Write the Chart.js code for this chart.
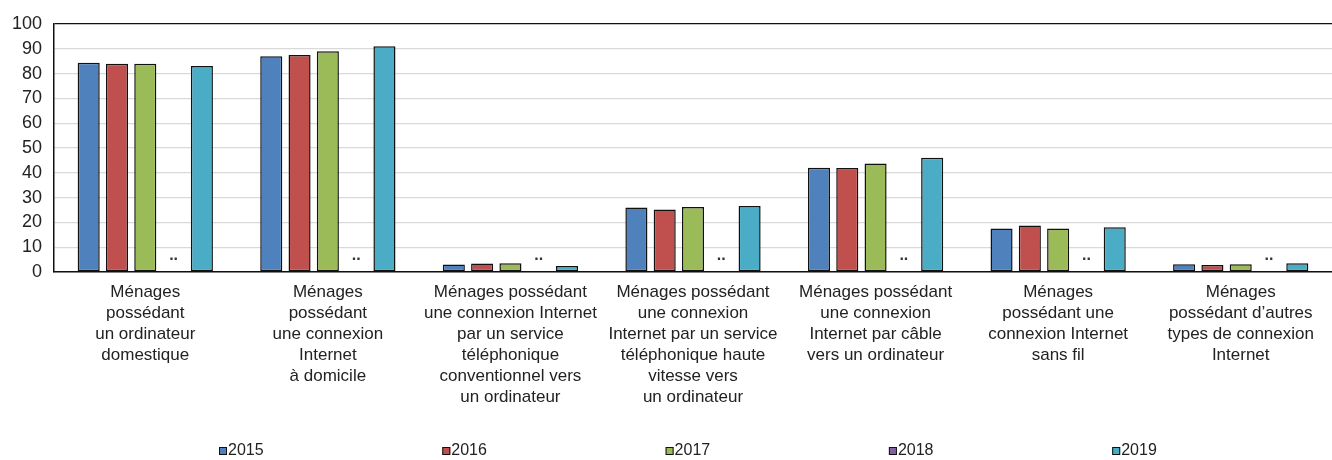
<!DOCTYPE html>
<html>
<head>
<meta charset="utf-8">
<script src="https://cdn.jsdelivr.net/npm/chart.js@4"></script>
<style>
  html, body { margin: 0; padding: 0; background: #fff; }
  #wrap { width: 1332px; height: 460px; }
</style>
</head>
<body>
<div id="wrap"><canvas id="chart" width="1332" height="460"></canvas></div>
<script>
;(function()
{
	'use strict';

	var categories = [
		['Ménages', 'possédant', 'un ordinateur', 'domestique'],
		['Ménages', 'possédant', 'une connexion', 'Internet', 'à domicile'],
		['Ménages possédant', 'une connexion Internet', 'par un service', 'téléphonique', 'conventionnel vers', 'un ordinateur'],
		['Ménages possédant', 'une connexion', 'Internet par un service', 'téléphonique haute', 'vitesse vers', 'un ordinateur'],
		['Ménages possédant', 'une connexion', 'Internet par câble', 'vers un ordinateur'],
		['Ménages', 'possédant une', 'connexion Internet', 'sans fil'],
		['Ménages', 'possédant d\u2019autres', 'types de connexion', 'Internet']
	];

	var years    = ['2015', '2016', '2017', '2018', '2019'];
	var v2015    = [84.4, 87.0, 3.0, 26.0, 42.0, 17.5, 3.1];
	var v2016    = [84.0, 87.5, 3.4, 25.2, 41.9, 18.7, 2.8];
	var v2017    = [84.0, 89.0, 3.5, 26.2, 43.7, 17.5, 3.1];
	var v2018    = [null, null, null, null, null, null, null];
	var v2019    = [83.1, 91.0, 2.4, 26.6, 46.1, 18.0, 3.5];
	var yTicks   = [0, 10, 20, 30, 40, 50, 60, 70, 80, 90, 100];
	var missing  = '..';

	var colours = ['#4f81bd', '#c0504d', '#9bbb59', '#8064a2', '#4bacc6'];
	var series  = [v2015, v2016, v2017, v2018, v2019];

	var font = '"Liberation Sans", Arial, Helvetica, sans-serif';

	var datasets = years.map(function(y, i) {
		return {
			label: y,
			data: series[i],
			backgroundColor: colours[i],
			borderColor: '#111',
			borderWidth: 1.5,
			borderSkipped: false,
			categoryPercentage: 0.775,
			barPercentage: 0.78
		};
	});

	// ".." where a year has no value
	var missingPlugin = {
		id: 'missing',
		afterDatasetsDraw: function(chart) {
			var ctx = chart.ctx,
				yScale = chart.scales.y;
			ctx.save();
			ctx.fillStyle = '#333';
			ctx.font = 'bold 16px ' + font;
			ctx.textAlign = 'center';
			ctx.textBaseline = 'alphabetic';
			chart.data.datasets.forEach(function(ds, di) {
				ds.data.forEach(function(v, i) {
					if (v !== null) return;
					var prev = chart.getDatasetMeta(di - 1).data[i],
						next = chart.getDatasetMeta(di + 1).data[i];
					var x = (prev.x + next.x) / 2;
					ctx.fillText(missing, x, yScale.getPixelForValue(0) - 12);
				});
			});
			ctx.restore();
		}
	};

	// legend spread across the plot width like the original
	var legendPlugin = {
		id: 'spreadLegend',
		afterDraw: function(chart) {
			var ctx = chart.ctx,
				area = chart.chartArea,
				step = 223.3,
				y = 451;
			ctx.save();
			ctx.font = '16px ' + font;
			ctx.textBaseline = 'middle';
			ctx.textAlign = 'left';
			chart.data.datasets.forEach(function(ds, i) {
				var x = area.left + 165 + i * step;
				ctx.fillStyle = ds.backgroundColor;
				ctx.fillRect(x, y - 4, 8, 8);
				ctx.strokeStyle = '#111';
				ctx.lineWidth = 1;
				ctx.strokeRect(x + 0.5, y - 3.5, 7, 7);
				ctx.fillStyle = '#222';
				ctx.fillText(ds.label, x + 9, y);
			});
			ctx.restore();
		}
	};

	var chart = new Chart(document.getElementById('chart').getContext('2d'), {
		type: 'bar',
		data: { labels: categories, datasets: datasets },
		options: {
			responsive: false,
			animation: false,
			layout: { padding: { top: 24, right: 0, bottom: 30, left: 0 } },
			plugins: {
				legend: { display: false },
				tooltip: { enabled: false }
			},
			scales: {
				x: {
					grid: { display: false, drawTicks: false },
					border: { display: true, color: '#111', width: 1.5 },
					ticks: {
						autoSkip: false,
						maxRotation: 0,
						minRotation: 0,
						padding: 10,
						color: '#222',
						font: { family: font, size: 17, lineHeight: 1.235 }
					},
					afterFit: function(scale) { scale.height = 158; }
				},
				y: {
					min: 0,
					max: 100,
					afterBuildTicks: function(scale) {
						scale.ticks = yTicks.map(function(v) { return { value: v }; });
					},
					grid: {
						drawTicks: false,
						lineWidth: 1.3,
						color: function(c) { return c.tick && c.tick.value === 100 ? '#111' : '#d9d9d9'; }
					},
					border: { display: true, color: '#111', width: 1.5 },
					ticks: {
						padding: 12,
						color: '#222',
						font: { family: font, size: 18 }
					},
					afterFit: function(scale) { scale.width = 54; }
				}
			}
		},
		plugins: [missingPlugin, legendPlugin]
	});
})();
</script>
</body>
</html>
